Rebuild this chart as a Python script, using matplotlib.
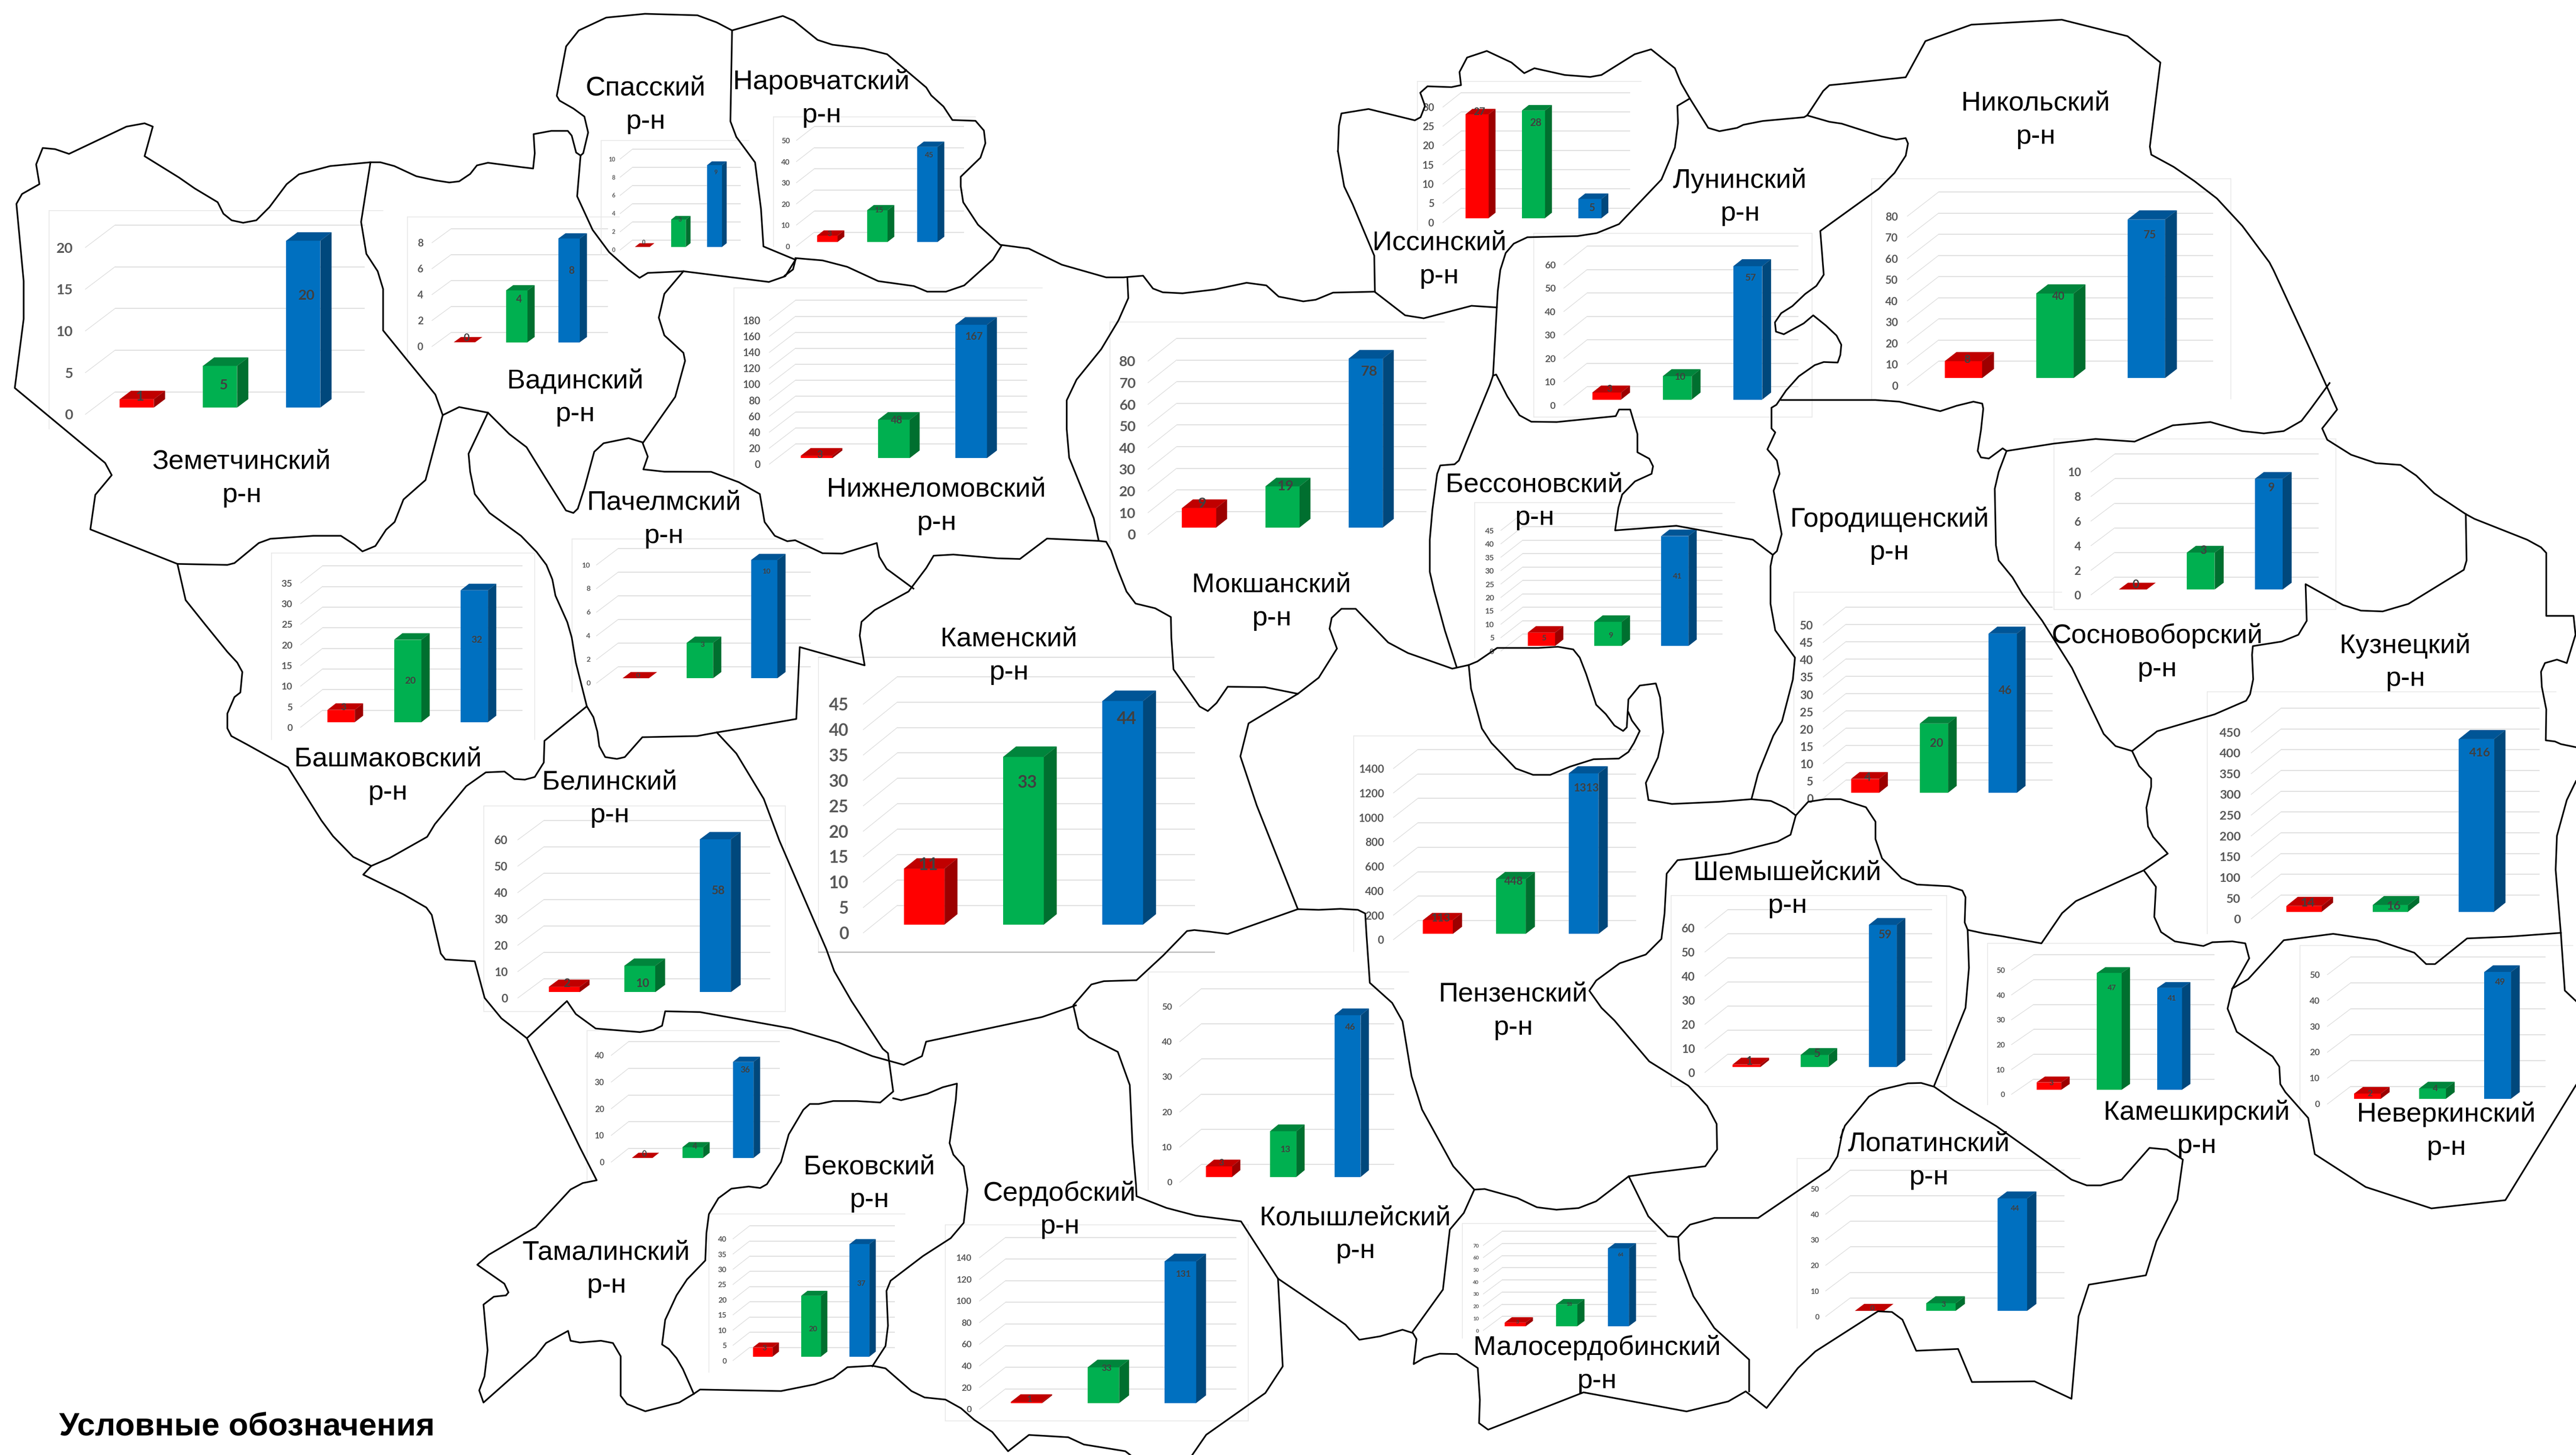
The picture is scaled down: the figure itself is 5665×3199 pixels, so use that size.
import matplotlib
matplotlib.use('Agg')
import matplotlib.pyplot as plt
from matplotlib.patches import Polygon

# all layout numbers are in "preview" pixels, 1568 wide (1 px = 3.613 px of the output)
W, H = 1568.0, 885.0

districts = ['Земетчинский', 'Вадинский', 'Спасский', 'Наровчатский', 'Нижнеломовский', 'Мокшанский',
             'Иссинский', 'Лунинский', 'Никольский', 'Бессоновский', 'Городищенский', 'Сосновоборский',
             'Кузнецкий', 'Каменский', 'Пачелмский', 'Башмаковский', 'Белинский', 'Пензенский',
             'Шемышейский', 'Камешкирский', 'Неверкинский', 'Лопатинский', 'Колышлейский',
             'Малосердобинский', 'Сердобский', 'Бековский', 'Тамалинский']
red = [1, 0, 0, 3, 3, 9, 27, 3, 8, 5, 4, 0, 14, 11, 0, 3, 2, 113, 1, 3, 2, 0, 3, 3, 1, 3, 0]
green = [5, 4, 3, 15, 48, 19, 28, 10, 40, 9, 20, 3, 16, 33, 3, 20, 10, 448, 5, 47, 4, 3, 13, 18, 33, 20, 4]
blue = [20, 8, 9, 45, 167, 78, 5, 57, 75, 41, 46, 9, 416, 44, 10, 32, 58, 1313, 59, 41, 49, 44, 46, 64, 131, 37, 36]
tick_max = [20, 8, 10, 50, 180, 80, 30, 60, 80, 45, 50, 10, 450, 45, 10, 35, 60, 1400, 60, 50, 50, 50, 50, 70, 140, 40, 40]
tick_step = [5, 2, 2, 10, 20, 10, 5, 10, 10, 5, 5, 2, 50, 5, 2, 5, 10, 200, 10, 10, 10, 10, 10, 10, 20, 5, 10]

# where the data labels sit, in value units (they wander about in the original)
label_at = [(1.3, 2.7, 13.4), (0.3, 3.3, 5.5), (0.5, 3, 8.2), (3.9, 15, 41), (4, 47, 152), (11, 19, 72),
            (27.6, 24.7, 2.6), (4.5, 9.7, 52), (8.8, 38.6, 67.7), (3, 4, 26), (4.5, 14.3, 29.5), (0.4, 3.2, 8.3),
            (21, 14, 383), (11.7, 27.9, 40.4), (0.2, 2.8, 9), (3.6, 10, 20), (3.4, 3.4, 38.5), (128, 430, 1193),
            (2.5, 5.6, 55), (2.7, 41, 36.7), (2, 3.9, 45), (1, 2.6, 40), (4, 7.8, 42.6), (3.5, 18, 59),
            (3.5, 32, 119), (2.8, 9, 24), (1.4, 4.3, 33)]

# frame L,T,R,B / xa front left, xb back left, xr right / y0 front zero, ytop top tick, dy depth / tick font
layout = [
    (30, 128, 233, 261, 52, 70, 222, 252, 150.5, 13.6, 21),
    (248, 132, 377, 218, 263, 274.5, 370, 210.7, 147.6, 8.4, 15),
    (366, 85.5, 456, 155, 377.5, 385, 451, 152, 96.7, 6, 8.5),
    (470.7, 71.2, 593.8, 150, 484.8, 495.6, 586.9, 149.7, 85.4, 8.4, 11),
    (446.7, 175.1, 634.3, 290, 468.3, 484.2, 625.3, 282.3, 194.9, 12.2, 15),
    (675.7, 195.9, 879, 330.9, 698.8, 716.2, 868.4, 325, 219.6, 13.8, 21),
    (862.7, 49.5, 999, 140, 878.3, 889.3, 992.3, 135.3, 65.1, 8.7, 15),
    (933.6, 142, 1103, 253.8, 951.9, 966, 1094.8, 246.4, 161, 11.2, 14),
    (1139.2, 108.6, 1358, 242.7, 1161, 1180, 1347, 234.4, 131.5, 14.7, 16),
    (897.7, 305.8, 1056, 400, 913.6, 926.8, 1048.6, 396, 322.6, 10.3, 11.5),
    (1091.8, 360.3, 1255, 492, 1109.8, 1123.6, 1249.3, 485.5, 380.2, 11, 17),
    (1250.3, 267, 1421.9, 370.7, 1272.8, 1287.2, 1411.3, 361.8, 287, 10.8, 17),
    (1343.6, 420.7, 1555.9, 568, 1370.3, 1388.4, 1545.8, 558.9, 445.3, 14.5, 18),
    (498.2, 399.8, 739, 579.1, 525.5, 546.2, 727.5, 567.4, 428.3, 16.7, 25),
    (348.1, 327.7, 501, 420.8, 363.1, 376.2, 493.5, 415.5, 343.6, 9.9, 10.5),
    (165.3, 336.5, 325.5, 449.9, 183, 196.3, 317.9, 442.4, 354.6, 10.4, 14),
    (294.5, 490.3, 478, 615.4, 315.2, 331, 469, 607, 510.8, 11.7, 17),
    (823.9, 447.5, 1004, 578.8, 848.2, 863, 996, 571.5, 467.4, 11.5, 16),
    (1017.2, 544.6, 1184.8, 660.9, 1037.8, 1051.6, 1176, 652.3, 564.4, 11, 17),
    (1209.7, 573.7, 1350, 671.9, 1224.4, 1237.8, 1348, 665.6, 590, 9.2, 11),
    (1399.9, 575.1, 1566, 680, 1416.7, 1430.7, 1549.5, 671.5, 592.8, 10.6, 13),
    (1094, 704.7, 1266, 807.8, 1111.3, 1126.2, 1256.7, 800.7, 723, 11.2, 11),
    (699, 591.3, 857.5, 723.6, 718.1, 731.2, 848.6, 719.1, 612.2, 10.8, 13),
    (890.1, 744.3, 1016, 813.8, 902.9, 914.3, 1008.4, 809.2, 757.5, 8.5, 7.5),
    (575.5, 745, 759.8, 864.2, 596.2, 612, 752.5, 857.1, 765, 12.3, 13),
    (431.5, 738.5, 550.7, 834.6, 446.2, 456.3, 544.7, 827.5, 753.5, 7.9, 11),
    (357.2, 627, 481.8, 718, 372.1, 382.6, 474.8, 706.8, 641.9, 8.3, 12),
]

# these keep a faint right/bottom edge too, the rest only top and left
right_edge = ['Лунинский', 'Никольский', 'Сосновоборский', 'Каменский', 'Башмаковский', 'Белинский',
              'Шемышейский', 'Сердобский']
bottom_edge = ['Лунинский', 'Сосновоборский', 'Каменский', 'Белинский', 'Шемышейский', 'Сердобский']

name_pos = [(147, 280), (350, 231), (393, 53), (500, 49), (570, 297), (774, 355), (876, 147), (1059, 109),
            (1239, 62), (934, 294), (1150, 315), (1313, 386), (1464, 392), (614, 388), (404, 305), (236, 461),
            (371, 475), (921, 604), (1088, 530), (1337, 676), (1489, 677), (1174, 695), (825, 740), (972, 819),
            (645, 725), (529, 709), (369, 761)]

# district borders, traced by hand
borders = [
    [(225.5, 98.7), (201, 101), (182, 106), (174.5, 112), (164, 126), (156, 134), (148, 135.5), (141, 134), (136, 130),
     (132.5, 123), (118.5, 114.6), (109, 108), (88, 95), (93, 77), (88, 75), (77, 77), (42, 93.6), (33.5, 90.7),
     (26, 90), (22, 100), (24, 112), (13.4, 118), (10, 124), (14.4, 171), (14.4, 194), (9, 236), (64, 281.6),
     (68, 289), (58, 301), (55, 322), (108, 343), (138.4, 343.6), (142.7, 342.5), (157.5, 330.3), (164.6, 327.7),
     (190.8, 325.9), (207.5, 325.9), (215.9, 331.4), (220.6, 335.4), (228.5, 332.1), (235, 322.2), (240.2, 317.5),
     (245.6, 303.8), (259, 292), (269.5, 252.5), (279.5, 247.6), (297, 251)],
    [(108, 343), (113, 365), (125, 380), (138.4, 396.5), (144.4, 403), (147.5, 408.7), (146.3, 421.2), (142.7, 424),
     (138.4, 434), (138.4, 443), (140.8, 447.7), (150.3, 452.8), (175.3, 466.7), (195.6, 499), (202.7, 508.6),
     (215, 521.2), (226, 526.7), (221.1, 532), (245.6, 544), (259.5, 552), (262.8, 556.5), (268.3, 580),
     (271.1, 583.6), (289, 584.7), (295, 607), (305.2, 619.4), (320.7, 631.5), (353, 697.9), (363.2, 717.9),
     (354.7, 719.6), (347.3, 723.5), (326.1, 746.4), (297.5, 763.2), (290.5, 769.3), (307, 780.8), (309.5, 786.1),
     (308, 787.9), (300.6, 788.7), (294.3, 793.5), (296.8, 821.3), (294.9, 837.2), (291.7, 845.7), (294.3, 853.1),
     (326.1, 824.9), (332.4, 816.9), (345.8, 809.5), (347.3, 815.5), (353, 816.6), (365.8, 815.5), (373.1, 816.9),
     (377.8, 824.9), (377.8, 849), (381.7, 854), (392.8, 858.4), (413.4, 853.1), (422.3, 847.8), (426.1, 845.2),
     (475.4, 846.1), (496, 842), (507.2, 838.1), (515.8, 831.6), (531, 830.7), (539, 832.3), (554.8, 846.1),
     (562.8, 850), (575.5, 851.3), (585, 856.6), (593, 863.6), (604, 871), (613.6, 882.7), (626.3, 872.8),
     (650.2, 874.2), (659.7, 878.6), (685, 882.7), (688, 885)],
    [(226, 526.7), (237.3, 521.8), (260, 509), (264.7, 501.3), (283.8, 478.2), (295.7, 469.8), (307.1, 469.3),
     (313.1, 473.8), (319.5, 474.2), (325.5, 472.6), (331, 463.8), (331.4, 450.6), (357.2, 429.6), (350.5, 403),
     (348, 387.7), (345.3, 378.4), (338.1, 362.3), (336.2, 352.4), (332.6, 343.6), (326.7, 335.8), (317.1, 325.9),
     (298, 312), (289, 300.5), (286.2, 287), (285.2, 276), (297, 251), (310, 264), (320.5, 272), (332, 290.6),
     (344.5, 310.5), (349, 312), (351.7, 309.4), (355.7, 297), (361.7, 274.8), (367.4, 269.6), (382.6, 266.5),
     (391, 269), (394.3, 277.7), (391.6, 285.5), (404.4, 286.9), (432.9, 287), (449.7, 293.3), (462.5, 300.5),
     (465.4, 317.5), (471.6, 325.9), (479.2, 329.2), (484, 328.6), (500.7, 336.5), (512.7, 336.7), (533.7, 330.3),
     (535.2, 338.6), (539.7, 346), (556, 358)],
    [(391.6, 269), (411, 241.4), (417, 219.5), (416, 214.6), (404.4, 204), (401, 193.2), (404.4, 178.7), (416, 165),
     (468, 171.5), (478, 168), (484.5, 157.5)],
    [(416, 165), (394.3, 166), (389.3, 169), (382.6, 164), (370.8, 153.4), (360.7, 139.8), (351.3, 119.4), (353.4, 94.6)],
    [(225.5, 98.7), (231.5, 98.7), (240, 101), (253.4, 107.2), (265, 109.7), (273.5, 111), (279.5, 110.3), (286.2, 105.8),
     (290.3, 100.6), (297, 99), (317, 101.6), (324.5, 102.5), (325.5, 93.2), (324.8, 81.6), (335.6, 79.6), (345.6, 79.6),
     (348, 82.5), (350.7, 92.8), (353.4, 94.6), (355, 93.2), (358, 80.6), (355.7, 70.9), (349, 66), (340.6, 61.2),
     (338.9, 58.3), (344.6, 28.2), (352.3, 18.5), (369, 10.7), (392.6, 8.4), (424.5, 9.3), (436.2, 13.6), (445.6, 18.5),
     (476.5, 9.7), (483.2, 12.6), (497.7, 24.3), (506.7, 27.2), (526, 29.5), (540, 33), (550, 41.5), (563.8, 53.2),
     (566.8, 58), (574.3, 64.8), (579.7, 73), (593.8, 73.5), (598.9, 79.4), (599.8, 87.1), (596.8, 95.9), (584.8, 107.5),
     (584.8, 113.4), (586.3, 123), (595.3, 136.7), (608.8, 148.9), (626.2, 151.2), (646.3, 161), (673.3, 168.7),
     (683.8, 168.7), (695.8, 167.7), (701.8, 175.5), (707.8, 177.8), (719.8, 178.4), (739.3, 176.1), (758.8, 172),
     (770.8, 173.6), (778.3, 180.4), (793.3, 183.3), (800.9, 182.3), (811.4, 178), (836.9, 177.4)],
    [(225.5, 98.7), (219.8, 135), (223, 154.4), (229.9, 165), (233.2, 175.8), (233.2, 201), (246.6, 217.5), (265, 240),
     (269.5, 252.5)],
    [(445.6, 18.5), (444.6, 73.8), (448.2, 83.3), (459.6, 98.8), (463.2, 127), (464.7, 149.9), (484.2, 158),
     (482.7, 163.9), (477.6, 167.7)],
    [(484.2, 157), (500.7, 158.4), (515.7, 162.3), (534.6, 171), (556.3, 174), (564.4, 177.4), (575.8, 177.4),
     (586.9, 173.6), (604.3, 158), (609.7, 149.3)],
    [(686.2, 168.7), (686.8, 181.3), (680.8, 194.9), (670.3, 212.4), (655.3, 230.9), (649.3, 243.5), (649.3, 261),
     (650.8, 278.4), (665.8, 315.3), (668.8, 329), (637.3, 327.6), (620.8, 340), (607.3, 339.6), (580.3, 337.3),
     (568.3, 338), (563.8, 345.5), (553, 359.8), (532.4, 371.1), (524.4, 378.2), (523.3, 386.6), (526.3, 404.7),
     (498.2, 396.8), (486.8, 393.6), (484.7, 437.3), (455.4, 442.4), (436.3, 445.5), (424.4, 447.7), (391, 448.4),
     (380.3, 460.5), (375.5, 461.6), (368.4, 460.5), (364.8, 453.9), (363.6, 445), (361.2, 436.2), (357.2, 429.6)],
    [(668.8, 329), (673.3, 329.5), (676.3, 334.8), (680.2, 346), (685.7, 359.8), (691.2, 367.1), (703.2, 370),
     (712.7, 375.3), (713, 388), (714.3, 407.1), (730.2, 429.7), (735.2, 432.5), (740.5, 427.6), (747.3, 417.7),
     (770, 418), (790, 422), (802.7, 412.2), (813.8, 394.5), (809.3, 382.4), (810.6, 375.8), (816.5, 370.3), (825.2, 370.3),
     (845, 390.8), (857, 397.2), (884, 406.7), (894, 404.5), (899.3, 402.3), (911.3, 394.1), (936.4, 394.1), (948.3, 393.4),
     (957.6, 395), (961.6, 400), (965.5, 410), (971.6, 428.7), (977.4, 434.3), (982.7, 441.3), (988, 444.6), (990.2, 442.4),
     (991.2, 425.4), (998.1, 417), (1007.9, 415.7), (1010.5, 424.3), (1012.4, 445.3), (1009.2, 460.7), (1001.8, 476.2),
     (1003.4, 486.6), (1017.7, 489), (1046.3, 487.7), (1066.1, 486.1), (1078, 487.2), (1087.3, 491.6), (1093.1, 496),
     (1089.9, 507.7), (1082, 511.9), (1052.9, 519.2), (1033, 521.9), (1021.1, 523.2), (1014.5, 531.4), (1013.2, 555.6),
     (1011.3, 571.1), (1001.8, 580.6), (985.9, 585.9), (971.6, 596.4), (967.4, 602.6), (974.8, 613), (982.7, 620.7),
     (1003.9, 645.6), (1027.7, 660.4), (1039.1, 672.6), (1044.9, 683.6), (1045.2, 699.2), (1038, 709.4), (1005.4, 713.4),
     (991.4, 715.5), (971.5, 730.7), (960.9, 734.8), (947.4, 735.8), (935.5, 734.3), (923.6, 728.7), (903.7, 723.2),
     (897.4, 723.6), (884.6, 709.4), (865.6, 674.9), (859.2, 654.6), (853.7, 621.2), (847.4, 610), (833.8, 597.8),
     (831.8, 568.9), (831, 555.6), (826.5, 553.4), (815.9, 552.8), (802.7, 553.4), (790, 553), (765, 490), (755, 460),
     (760, 440), (790, 422)],
    [(814.4, 92), (815, 76.5), (816.5, 69), (833, 66.3), (861.2, 73.2), (864.7, 71.3), (867.4, 64.4), (864.5, 56.4),
     (868.9, 52.5), (883.5, 53), (889.3, 51.8), (888.4, 43.8), (893, 35), (905, 31), (920, 38), (927.8, 44.5), (934, 41.5),
     (952.4, 45.6), (968, 46.8), (974.8, 45.6), (995, 33), (1005, 30), (1019.5, 41.5), (1023.3, 50.7), (1028.6, 59.9),
     (1039.8, 77.8), (1046.6, 79.8), (1057.3, 77.8), (1061.2, 75.9), (1072.9, 73.6), (1098.1, 71.3), (1100, 70.2),
     (1109.8, 55.3), (1113.6, 51.8), (1121, 51.1), (1160, 47), (1172, 25), (1200, 15), (1255, 12), (1295, 22), (1315, 38),
     (1308.6, 89.2), (1309.5, 94.1), (1323.1, 101.5), (1335.8, 110.2), (1349.4, 120.7), (1364.9, 137.4), (1381.4, 159.6),
     (1384, 164.6), (1405, 210), (1422.6, 249.1), (1413.5, 260.6), (1416.6, 267.5), (1431.1, 276.6), (1446.2, 281.7),
     (1461.2, 282.8), (1470.8, 289.3), (1481.7, 300), (1500.9, 312.7), (1506.2, 315.6), (1538.3, 328.3), (1546.7, 332.9),
     (1549.9, 336.3), (1549.9, 374.6), (1566.5, 374.6), (1567.7, 386.1), (1562.4, 403.3), (1556.4, 401.2), (1549.1, 403.3),
     (1546.7, 408.6), (1547.2, 417.8), (1549.9, 431.5), (1549.6, 450.3), (1555.2, 451), (1558.8, 452.6), (1568, 454.5)],
    [(814.4, 92), (818.2, 113.4), (823.3, 124.1), (836.5, 155.5), (836.9, 177.6), (855.3, 191.8), (866.6, 193.6),
     (895.7, 186), (911.1, 187), (911.7, 176.9), (913.2, 164.3), (916.5, 153.9), (921.4, 148.2), (929.7, 144.3),
     (960.2, 143.6), (971.9, 141.8), (985.5, 136.3), (1011.3, 109.2), (1019.5, 89.7), (1021.4, 74.8), (1021, 64.4), (1028.6, 59.9)],
    [(1100, 70.2), (1113.6, 74.1), (1121, 75.2), (1145.4, 83), (1154.2, 84.9), (1160, 84), (1161.4, 87.3), (1160, 94.7),
     (1153.2, 105.2), (1143.5, 114.9), (1108, 140.5), (1110.1, 167.1), (1105.6, 173.9), (1098.8, 178.8), (1091, 186.2),
     (1084.2, 190.5), (1080.4, 196.1), (1081, 201.7), (1085.8, 203.3), (1097.9, 196.7), (1103.7, 191.8), (1111.4, 198),
     (1117.9, 204.1), (1120.8, 209.7), (1120.2, 215.9), (1118.6, 220.5), (1110.1, 220.2), (1104.6, 222.1), (1094.9, 228.9),
     (1087.2, 237.5), (1081.3, 246.2), (1078.3, 248), (1078.3, 260.6), (1080.6, 263), (1075.8, 273.3), (1081.6, 280.1),
     (1083.2, 288.2), (1079.6, 298.5), (1084.5, 324.9), (1081.6, 335.2), (1079.1, 337.5), (1077.7, 344.4), (1077.7, 367.3),
     (1080.6, 383.4), (1092.6, 400), (1091.3, 413.3), (1084.7, 438.7), (1079.4, 447.5), (1070.1, 470.7), (1066.1, 486.1)],
    [(1084.2, 243.3), (1141.5, 243.3), (1156.1, 244.3), (1181, 250.1), (1191, 246.8), (1201.2, 244.3), (1206.6, 245.5),
     (1207.2, 248.6), (1205.8, 261.7), (1203.8, 274.3), (1205.8, 278.2), (1210.6, 278.9), (1219, 272.7), (1221.4, 274.3),
     (1250.3, 269.8), (1275.6, 267), (1299.3, 268.6), (1322.6, 258.7), (1345.5, 256.7), (1364.8, 262.2), (1378, 263.6),
     (1390.1, 262.2), (1400.9, 256), (1406.2, 249.1), (1418, 233)],
    [(1221.4, 274.3), (1216.6, 287), (1214.2, 297.3), (1214.9, 331.7), (1216.6, 340.9), (1225, 351.2), (1231.1, 361.5),
     (1243.1, 377.6), (1261.2, 406.3), (1280.5, 446.4), (1287.7, 453.8), (1297.8, 456.8), (1302.1, 465.9), (1309.4, 473.5),
     (1309.4, 478.6), (1306.5, 491.2), (1307.5, 502.7), (1310.6, 509), (1319.5, 519.2), (1304.6, 529.5), (1263.6, 548.1),
     (1255.2, 555.4), (1242.6, 573.8), (1217.8, 569.3), (1207.8, 567.8), (1197.7, 565.6), (1195.9, 561.1), (1196.4, 545.7),
     (1194.5, 541.7), (1186.6, 539.1), (1166.8, 538), (1157.5, 534.2), (1145.6, 522.1), (1141.6, 510.4), (1141.6, 499.8),
     (1135.8, 491), (1120.4, 486.1), (1111.1, 486.1), (1100.6, 487.7), (1093.1, 496)],
    [(1500.9, 312.7), (1501.4, 340.9), (1499.7, 346.6), (1466, 367.3), (1450.3, 371.9), (1437.1, 371.4), (1426.2, 368),
     (1403.4, 355.3), (1404.1, 377.6), (1399, 386.1), (1388.9, 390.2), (1371.3, 393), (1370.8, 398.3), (1371.5, 413.2),
     (1369.6, 422.3), (1367.2, 426.2), (1348, 434.5), (1313, 444.8), (1297.8, 456.8)],
    [(1305, 529.5), (1312.3, 539.4), (1311.3, 557.7), (1315.4, 566.9), (1323.8, 572.6), (1341.2, 575.4), (1346.7, 573.1),
     (1358.8, 572.6), (1366.7, 573.8), (1369.1, 582.9), (1358.8, 601.3), (1355.9, 613.5), (1361.5, 627.6), (1383.3, 642.6),
     (1387.4, 648.8), (1388, 659.4), (1391.1, 664.3), (1405, 680), (1409, 702), (1440, 722), (1480, 735), (1525, 730), (1568, 660)],
    [(1358.8, 601.3), (1368.4, 595.6), (1390.1, 571.9), (1420.2, 568), (1446.7, 571.9), (1469.6, 579.5), (1476.8, 586.4),
     (1482.2, 586.4), (1501.7, 570.8), (1527.5, 569.7), (1558.8, 567.4)],
    [(1568, 475.1), (1562.4, 486.6), (1556.4, 508.4), (1555.6, 529), (1558.8, 568), (1561.2, 602.5), (1568, 608.9)],
    [(1197.7, 565.6), (1198.5, 588.7), (1196.4, 613), (1177.3, 660.4)],
    [(1120.4, 692), (1123, 684.7), (1137.6, 667), (1144.2, 663), (1161.4, 658.9), (1169.4, 658.7), (1177.3, 661),
     (1189.3, 669.3), (1215.2, 685), (1260.9, 717.5), (1270.2, 721), (1278.7, 721), (1291.4, 717.5), (1308.4, 698.2),
     (1319, 699.2), (1328.7, 705.3), (1325.3, 729.7), (1312.6, 755), (1306.2, 775.7), (1271.5, 781.4), (1265.2, 800.7),
     (1260.9, 850.8), (1238.4, 840.2), (1200.3, 840.6), (1191.9, 820.5), (1166.4, 821.6), (1158, 802.7), (1151.6, 798),
     (1143.1, 797.6), (1105, 822), (1094.4, 832.1), (1075.3, 856.4), (1062.6, 846.3), (1052, 852.4), (1026.6, 858.5),
     (963.9, 846.9), (905.8, 869.6), (900.3, 865.6), (900.8, 851.4), (899.5, 832.1), (886.8, 823.6), (876.2, 823.4),
     (866.8, 826), (860.5, 829.7), (862.2, 814.5), (860, 810.8), (853.7, 808.8), (840.1, 812.8), (827.4, 814.9),
     (819, 805.7), (799.9, 792.6), (777.9, 777.7), (755.4, 742.9), (727.9, 739.4), (710, 734.7), (691.8, 727.6),
     (691.5, 720.9), (689.3, 695.3), (687.7, 660), (680.4, 639.8), (662.9, 631), (656.5, 625.6), (653.3, 611.5),
     (664.3, 598.8), (671.9, 596.8), (691.8, 596.2), (708, 581.2), (722.5, 566.3), (727, 565.7), (736.5, 566.7),
     (747.3, 568.1), (790, 553)],
    [(1121.8, 687.1), (1118.5, 703.3), (1113.5, 711.4), (1070.2, 740.8), (1043.5, 740.8), (1028.7, 744.9), (1021.5, 752.4),
     (1015.2, 752), (1003.3, 739.8), (991.4, 715.5)],
    [(1021.5, 752.4), (1022.4, 766.2), (1030.8, 788.5), (1043.5, 807.8), (1064.7, 827), (1064.7, 846.3)],
    [(897.4, 723.6), (891, 737.8), (882.5, 747.9), (878.3, 784.4), (860, 809.8)],
    [(654.9, 611.5), (634.3, 618.6), (563.7, 633.6), (561.2, 642.4), (550.1, 647.7), (531, 642.4), (510.4, 634.1),
     (481.8, 625.6), (426.1, 615.6), (404.9, 615.1), (403, 623.9), (397.6, 626.5), (389.6, 627.8), (362.6, 625.6),
     (350.5, 616.8), (345.1, 608.9), (320.7, 631.5)],
    [(436.3, 445.5), (448.2, 458.3), (464.9, 485.9), (474.4, 511.3), (488.7, 544.4), (503, 577.4), (507.8, 590.7),
     (518.3, 608.9), (537.4, 638), (540.5, 640.6), (543.7, 663.9), (535.8, 670.6), (521.5, 669.7), (507.2, 669.7),
     (498.3, 671.5), (492.9, 671.5), (489, 675), (480.1, 690), (475.4, 706.8), (466.8, 720.3), (462.7, 722.6),
     (455.7, 721.7), (445.2, 723), (437.3, 728.8), (431.5, 738.5), (430, 750), (429.3, 766.7), (418.2, 778.2),
     (411.8, 787.9), (404.9, 802.8), (403, 817.8), (407.1, 820.5), (411.8, 826.1), (415.7, 832.8), (422.3, 847.8)],
    [(543.7, 668), (548.5, 669.2), (564.4, 665.3), (573.9, 661.3), (582.5, 659.1), (581.8, 668.8), (578, 695.3),
     (580.3, 702.3), (586.6, 709.4), (588.9, 723.5), (586.6, 743.8), (578.7, 753.1), (561.8, 764), (542.1, 779),
     (539.6, 785.2), (540.5, 806.4), (539, 818.7), (531, 831)],
    [(777.9, 777.7), (780.8, 831.1), (770.2, 847.3), (734.2, 872.7), (725.7, 885)],
    [(894, 404.5), (895.4, 418.8), (902, 443.1), (907.8, 451.9), (922.6, 467.4), (933.2, 471.3), (943.6, 471.3),
     (955.7, 466.3), (970, 461.8), (985.4, 461.4), (991.2, 457.4), (994.6, 451.9), (998.1, 444.6), (993.3, 438.2), (991.2, 433.2)],
    [(911.1, 187), (908.8, 228.5), (906.8, 234.3), (888, 280.1), (885.4, 282.4), (876.7, 283.1), (874.8, 288.2),
     (871.9, 310), (870.3, 328.3), (870.3, 347.8), (872.9, 359.2), (879.5, 383.5), (886.6, 405.6)],
    [(908.8, 228.5), (910.7, 227.8), (917.5, 241.1), (924.9, 252.6), (932.1, 256.5), (947.6, 256.7), (983.5, 253.1),
     (985.5, 249.1), (992.3, 249.1), (996.7, 264), (996.7, 275.1), (1003.9, 279), (1006.2, 283.6), (1005.3, 288.2),
     (995.2, 292.8), (987.4, 300.8), (985.1, 308.8), (983.1, 322.6), (1020.4, 319.8), (1067, 328.3), (1079.1, 337.5)],
]

colors = {'r': ('#FF0000', '#C00000', '#9C0000'),
          'g': ('#00B050', '#00853C', '#006F2F'),
          'b': ('#0070C0', '#005596', '#00487C')}


def draw_chart(i):
    L, T, R, B, xa, xb, xr, y0, ytop, dy, fs = layout[i]
    fs = fs * 1.08
    s = (y0 - ytop) / tick_max[i]  # preview px per unit
    ax = fig.add_axes([L / W, 1 - B / H, (R - L) / W, (B - T) / H], zorder=1)
    ax.set_xlim(L, R)
    ax.set_ylim((y0 - B) / s, (y0 - T) / s)
    ax.patch.set_alpha(0)
    for sp in ax.spines.values():
        sp.set_color('#E8E8E8')
        sp.set_linewidth(1.3)
    ax.spines['right'].set_visible(districts[i] in right_edge)
    ax.spines['bottom'].set_visible(districts[i] in bottom_edge)
    if districts[i] == 'Каменский':
        ax.spines['top'].set_color('#D4D4D4')
        ax.spines['bottom'].set_color('#BDBDBD')
        ax.spines['bottom'].set_linewidth(2)
        ax.spines['right'].set_visible(False)
    ticks = list(range(0, tick_max[i] + 1, tick_step[i]))
    up = dy / s
    gap = fs * 0.33
    # tick labels are pushed right from the axes edge up to the plot corner
    pad = -(xa - gap - L) * 3.613 * 0.72
    ax.set_xticks([])
    ax.set_yticks(ticks)
    ax.set_yticklabels([str(t) for t in ticks], fontsize=fs, color='#595959',
                       fontweight='bold', family=['Lato', 'DejaVu Sans'])
    ax.tick_params(axis='y', length=0, pad=pad)
    # floor / back wall
    ax.hlines([t + up for t in ticks], xb, xr, color='#DEDEDE', lw=1.6, zorder=1)
    for t in ticks:
        ax.plot([xa, xb], [t, t + up], color='#DEDEDE', lw=1.1, zorder=1)
    band = (xr - xb) / 3.0
    width = 0.41 * band
    bx = 0.38 * (xb - xa)
    by = 0.38 * up
    base = 0.3 * up
    centers = [xb + band * (k + 0.5) - 0.67 * (xb - xa) for k in range(3)]
    vals = [red[i], green[i], blue[i]]
    for x, v, key, pos in zip(centers, vals, 'rgb', label_at[i]):
        front, top, side = colors[key]
        rect = ax.bar(x, v, width=width, bottom=base, color=front, linewidth=0, zorder=3)[0]
        x0 = rect.get_x()
        x1 = x0 + rect.get_width()
        y1 = rect.get_y() + rect.get_height()
        ax.add_patch(Polygon([(x0, y1), (x1, y1), (x1 + bx, y1 + by), (x0 + bx, y1 + by)], fc=top, lw=0, zorder=3))
        ax.add_patch(Polygon([(x1, base), (x1 + bx, base + by), (x1 + bx, y1 + by), (x1, y1)], fc=side, lw=0, zorder=3))
        ax.text(x + 0.3 * bx, base + pos, str(v), ha='center', va='center', fontsize=fs, fontweight='bold',
                color='#404040', family=['Lato', 'DejaVu Sans'], zorder=4)


fig = plt.figure(figsize=(56.65, 31.99), dpi=100, facecolor='white')

for i in range(len(districts)):
    draw_chart(i)

# map sits on top of the charts
top = fig.add_axes([0, 0, 1, 1], zorder=5)
top.set_xlim(0, W)
top.set_ylim(H, 0)
top.axis('off')
for line in borders:
    top.plot([p[0] for p in line], [p[1] for p in line], color='black', lw=2.6, solid_joinstyle='round')

fam = ['Liberation Sans', 'DejaVu Sans']
for name, (x, y) in zip(districts, name_pos):
    top.text(x, y + 0.8, name, ha='center', va='center', fontsize=43.5, family=fam)
    top.text(x, y + 21, 'р-н', ha='center', va='center', fontsize=43.5, family=fam)

top.text(36, 868, 'Условные обозначения', ha='left', va='center', fontsize=51, fontweight='bold', family=fam)

fig.savefig('out.png', dpi=100)
